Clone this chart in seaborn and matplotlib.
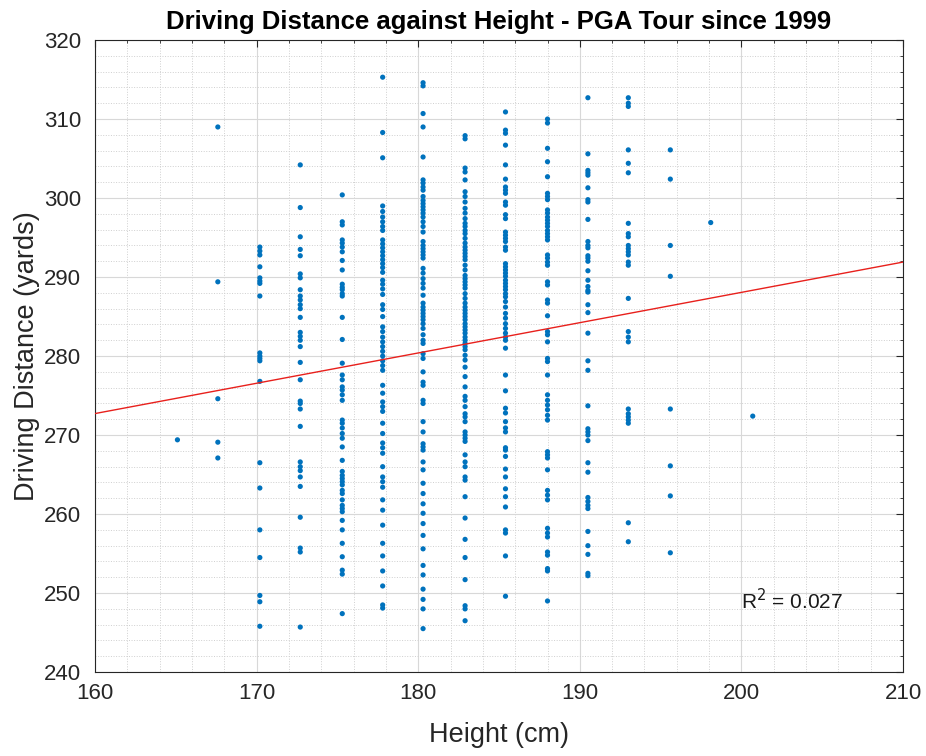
import numpy as np
import pandas as pd
import matplotlib
import matplotlib.pyplot as plt
import seaborn as sns
from matplotlib.ticker import MultipleLocator

matplotlib.use('Agg')
sns.set_style("white")
plt.rcParams['font.family'] = ['Liberation Sans', 'DejaVu Sans']

# heights (cm) of the players, one column of points per height
heights = [165.1, 167.6, 170.2, 172.7, 175.3, 177.8, 180.3, 182.9,
           185.4, 188.0, 190.5, 193.0, 195.6, 198.1, 200.7]

# driving distance (yards)
d_165 = [269.4]
d_168 = [309.0, 289.4, 274.6, 269.1, 267.1]
d_170 = [293.8, 293.3, 292.8, 291.3, 289.9, 289.5, 289.2, 287.6, 280.4, 280.0,
         279.7, 279.4, 276.8, 266.5, 263.3, 258.0, 254.5, 249.7, 248.9, 245.8]
d_173 = [304.2, 298.8, 295.1, 293.5, 292.7, 290.4, 289.9, 288.4, 287.6, 287.1,
         286.5, 286.0, 284.9, 283.0, 282.5, 282.0, 281.2, 279.2, 277.0, 274.3,
         274.0, 273.3, 271.1, 266.6, 266.0, 265.5, 264.7, 263.5, 259.6, 255.7,
         255.2, 245.7]
d_175 = [300.4, 297.0, 296.6, 294.7, 294.3, 293.8, 293.2, 292.1, 290.9, 289.1,
         288.7, 288.4, 287.9, 287.6, 284.9, 282.1, 279.1, 277.6, 277.0, 276.1,
         275.7, 275.1, 274.4, 271.9, 271.5, 270.9, 270.2, 269.6, 268.5, 266.8,
         265.4, 264.9, 264.5, 264.1, 263.7, 263.0, 262.6, 261.8, 261.1, 260.7,
         260.3, 259.2, 258.0, 256.3, 254.6, 252.9, 252.4, 247.4]
d_178 = [315.3, 308.3, 305.1, 299.0, 298.3, 297.6, 297.0, 296.4, 295.9, 294.7,
         294.2, 293.7, 293.2, 292.7, 292.2, 291.7, 291.2, 290.6, 289.6, 289.1,
         288.5, 287.8, 286.5, 285.9, 285.0, 283.7, 283.1, 282.4, 281.8, 281.2,
         280.6, 280.0, 279.4, 278.8, 278.2, 276.3, 275.3, 274.2, 273.6, 273.0,
         271.5, 270.2, 269.0, 268.4, 267.7, 266.0, 264.7, 264.1, 263.4, 261.8,
         260.5, 258.6, 256.3, 254.7, 252.8, 250.9, 248.5, 248.1]
d_180 = [314.6, 314.2, 310.7, 309.0, 305.2, 302.3, 301.9, 301.4, 301.0, 300.2,
         299.7, 299.3, 298.9, 298.5, 298.1, 297.6, 297.0, 296.4, 295.7, 294.5,
         294.0, 293.6, 293.2, 292.8, 292.4, 291.1, 290.5, 289.8, 289.2, 288.6,
         287.7, 286.7, 286.2, 285.8, 285.4, 285.0, 284.6, 284.1, 283.5, 282.7,
         282.0, 281.6, 280.3, 279.7, 278.0, 276.7, 276.3, 274.4, 274.0, 271.7,
         270.4, 268.9, 268.5, 268.1, 266.6, 265.6, 263.9, 262.6, 261.3, 260.1,
         258.8, 257.3, 255.6, 253.5, 252.3, 250.5, 249.2, 248.0, 245.5]
d_183 = [307.9, 307.5, 303.8, 303.3, 302.3, 300.8, 300.2, 299.5, 298.7, 298.1,
         297.4, 296.8, 296.4, 295.9, 295.5, 294.9, 294.3, 293.8, 293.4, 293.0,
         292.6, 292.2, 291.5, 290.9, 290.2, 289.8, 289.4, 289.0, 288.6, 287.9,
         287.3, 286.7, 286.2, 285.8, 285.4, 285.0, 284.6, 284.1, 283.7, 283.3,
         282.9, 282.4, 282.0, 281.6, 281.2, 280.8, 280.1, 279.5, 278.6, 277.4,
         276.1, 274.9, 274.4, 273.6, 272.7, 272.3, 271.7, 270.4, 270.0, 269.6,
         269.2, 267.5, 266.6, 266.0, 264.7, 264.3, 262.2, 259.5, 256.8, 254.5,
         251.7, 248.4, 248.0, 246.5]
d_185 = [310.9, 308.6, 308.2, 306.7, 304.2, 302.4, 301.4, 301.0, 300.6, 299.5,
         299.1, 297.9, 297.4, 295.7, 295.3, 294.9, 294.5, 293.8, 293.4, 291.7,
         291.3, 290.9, 290.5, 290.1, 289.6, 289.2, 288.8, 288.4, 287.9, 287.5,
         286.9, 286.2, 285.4, 284.8, 284.1, 283.5, 282.9, 282.4, 282.0, 281.0,
         277.6, 275.6, 273.4, 272.8, 271.7, 270.9, 270.4, 268.4, 268.1, 267.3,
         265.7, 264.7, 263.2, 262.2, 260.9, 258.0, 257.6, 254.7, 249.6]
d_188 = [310.0, 309.5, 306.3, 304.6, 302.7, 300.6, 300.2, 299.8, 298.5, 298.1,
         297.6, 297.2, 296.8, 296.4, 295.9, 295.5, 295.1, 294.7, 292.8, 292.4,
         291.9, 291.5, 289.4, 289.0, 287.1, 286.7, 285.1, 283.1, 282.7, 281.8,
         279.7, 279.3, 277.6, 275.1, 274.4, 273.8, 273.2, 272.5, 271.9, 267.9,
         267.5, 267.1, 265.6, 263.0, 262.4, 261.8, 258.2, 257.6, 257.1, 255.2,
         254.8, 253.1, 252.8, 249.0]
d_191 = [312.7, 305.6, 303.5, 303.2, 302.9, 301.3, 299.8, 299.5, 297.3, 294.5,
         294.0, 293.7, 292.7, 292.4, 292.0, 290.8, 289.6, 288.8, 288.3, 288.1,
         286.5, 285.5, 282.9, 279.4, 278.2, 273.7, 270.8, 270.4, 270.0, 269.3,
         266.5, 265.3, 262.1, 261.6, 261.1, 260.7, 257.8, 256.0, 254.9, 252.5,
         252.2]
d_193 = [312.7, 312.0, 311.6, 306.1, 304.4, 303.2, 296.8, 295.5, 295.1, 294.0,
         293.6, 293.2, 292.8, 291.9, 291.5, 287.3, 283.1, 282.4, 281.8, 273.3,
         272.7, 272.3, 271.9, 271.5, 258.9, 256.5]
d_196 = [306.1, 302.4, 294.0, 290.1, 273.3, 266.1, 262.3, 255.1]
d_198 = [296.9]
d_201 = [272.4]

columns = [d_165, d_168, d_170, d_173, d_175, d_178, d_180, d_183,
           d_185, d_188, d_191, d_193, d_196, d_198, d_201]

df = pd.DataFrame({
    'height': [h for h, col in zip(heights, columns) for _ in col],
    'distance': [v for col in columns for v in col],
})

fig = plt.figure(figsize=(9.26, 7.56), dpi=100)
ax = fig.add_axes([0.1026, 0.111, 0.8726, 0.836])

ax.set_xlim(160, 210)
ax.set_ylim(240, 320)

# grid like matlab: solid major lines, dotted minor lines
ax.xaxis.set_major_locator(MultipleLocator(10))
ax.yaxis.set_major_locator(MultipleLocator(10))
ax.xaxis.set_minor_locator(MultipleLocator(2))
ax.yaxis.set_minor_locator(MultipleLocator(2))
ax.grid(True, which='major', color='#d8d8d8', linewidth=0.8)
ax.grid(True, which='minor', color='#cfcfcf', linestyle=':', linewidth=0.7)
ax.set_axisbelow(True)

sns.scatterplot(data=df, x='height', y='distance', ax=ax, s=14,
                color='#0072BD', edgecolor='none', linewidth=0, zorder=3)
# least squares fit across the whole axis
sns.regplot(data=df, x='height', y='distance', ax=ax, scatter=False,
            ci=None, truncate=False, color='#e8201c',
            line_kws={'linewidth': 1.0, 'zorder': 4})
ax.set_xlim(160, 210)
ax.set_ylim(240, 320)

ax.text(200, 249, r'R$^2$ = 0.027', fontsize=15, color='#1a1a1a',
        ha='left', va='center')

ax.set_title('Driving Distance against Height - PGA Tour since 1999',
             fontsize=18.5, fontweight='bold', color='black', pad=8)
ax.set_xlabel('Height (cm)', fontsize=19.5, color='#262626', labelpad=13)
ax.set_ylabel('Driving Distance (yards)', fontsize=19.5, color='#262626', labelpad=3)

ax.tick_params(axis='x', which='major', pad=8)
ax.tick_params(axis='y', which='major', pad=10)
ax.tick_params(axis='both', which='major', direction='in', length=5,
               labelsize=16, colors='#262626', top=True, right=True)
ax.tick_params(axis='both', which='minor', direction='in', length=2.5,
               top=True, right=True, colors='#262626')
for side in ax.spines.values():
    side.set_visible(True)
    side.set_color('#262626')
    side.set_linewidth(0.8)

fig.savefig('out.png', dpi=100)
